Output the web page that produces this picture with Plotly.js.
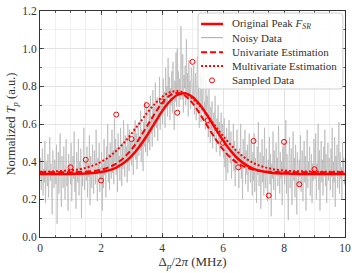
<!DOCTYPE html>
<html>
<head>
<meta charset="utf-8">
<script src="https://cdn.plot.ly/plotly-3.0.1.min.js"></script>
<style>html,body{margin:0;padding:0;background:#fff}#chart{width:357px;height:273px}</style>
</head>
<body>
<div id="chart"></div>
<script>
// Noisy data, x from 0 to 10 in steps of 0.02 (one row of 50 values per x unit)
const noisyY = [
0.31,0.42,0.25,0.38,0.47,0.22,0.36,0.29,0.51,0.18,0.40,0.33,0.27,0.44,0.21,0.35,0.53,0.30,0.39,0.24,0.12,0.46,0.34,0.26,0.41,
0.37,0.28,0.49,0.07,0.32,0.45,0.23,0.38,0.55,0.29,0.16,0.43,0.35,0.26,0.48,0.31,0.20,0.40,0.52,0.27,0.36,0.14,0.44,0.33,0.39,
0.28,0.50,0.19,0.37,0.43,0.31,0.56,0.24,0.35,0.15,0.45,0.38,0.29,0.52,0.22,0.40,0.33,0.47,0.10,0.36,0.27,0.44,0.58,0.25,0.34,
0.41,0.30,0.48,0.21,0.39,0.32,0.54,0.17,0.43,0.36,0.26,0.49,0.34,0.23,0.46,0.38,0.28,0.57,0.31,0.19,0.42,0.35,0.50,0.24,0.37,
0.30,0.45,0.14,0.39,0.26,0.52,0.33,0.41,0.21,0.48,0.36,0.60,0.29,0.44,0.25,0.50,0.38,0.31,0.57,0.34,0.46,0.28,0.63,0.40,0.52,
0.33,0.47,0.24,0.55,0.37,0.43,0.30,0.58,0.41,0.27,0.50,0.36,0.62,0.45,0.32,0.54,0.39,0.48,0.29,0.60,0.44,0.35,0.57,0.42,0.51,
0.38,0.52,0.44,0.33,0.58,0.47,0.62,0.41,0.55,0.36,0.49,0.60,0.43,0.53,0.46,0.67,0.40,0.57,0.50,0.35,0.61,0.48,0.72,0.45,0.56,
0.70,0.43,0.60,0.50,0.68,0.46,0.75,0.55,0.64,0.48,0.78,0.60,0.69,0.53,0.82,0.63,0.58,0.74,0.51,0.70,0.62,0.85,0.57,0.72,0.66,
0.72,0.60,0.84,0.68,0.77,0.58,0.90,0.71,0.80,0.64,0.95,0.74,0.85,0.62,0.79,0.70,0.88,0.66,0.93,0.75,0.57,0.83,0.72,0.98,0.69,
1.00,0.78,0.88,0.69,0.84,0.73,1.12,0.82,0.73,0.97,0.66,0.86,0.79,0.91,0.70,1.05,0.77,0.87,0.64,0.94,0.75,0.83,0.68,0.90,0.80,
0.82,0.70,0.91,0.65,0.78,0.87,0.62,0.74,0.96,0.68,0.80,0.58,0.73,0.88,0.61,0.85,0.69,0.76,0.98,0.64,0.72,0.57,0.83,0.67,0.75,
0.70,0.53,0.79,0.64,0.50,0.69,0.57,0.72,0.47,0.60,0.66,0.52,0.75,0.58,0.45,0.63,0.55,0.70,0.49,0.61,0.43,0.57,0.66,0.51,0.60,
0.55,0.42,0.63,0.37,0.50,0.30,0.58,0.45,0.34,0.54,0.62,0.47,0.39,0.56,0.31,0.48,0.43,0.60,0.35,0.51,0.27,0.46,0.41,0.57,0.38,
0.44,0.26,0.47,0.39,0.60,0.31,0.44,0.20,0.52,0.36,0.41,0.57,0.28,0.46,0.33,0.49,0.24,0.40,0.55,0.35,0.29,0.50,0.37,0.22,0.45,
0.30,0.55,0.24,0.42,0.36,0.18,0.48,0.33,0.61,0.27,0.39,0.45,0.15,0.37,0.52,0.29,0.43,0.22,0.58,0.34,0.26,0.47,0.38,0.19,0.41,
0.35,0.53,0.28,0.44,0.11,0.39,0.31,0.56,0.25,0.46,0.37,0.20,0.50,0.33,0.42,0.27,0.59,0.36,0.23,0.45,0.31,0.40,0.17,0.48,0.34,
0.50,0.28,0.36,0.62,0.23,0.44,0.31,0.09,0.40,0.53,0.26,0.35,0.47,0.17,0.38,0.56,0.30,0.42,0.21,0.49,0.33,0.12,0.45,0.37,0.27,
0.41,0.32,0.54,0.24,0.38,0.46,0.19,0.35,0.51,0.29,0.43,0.14,0.37,0.57,0.26,0.40,0.33,0.48,0.22,0.36,0.44,0.18,0.39,0.30,0.52,
0.43,0.31,0.55,0.20,0.39,0.34,0.60,0.25,0.46,0.14,0.37,0.51,0.29,0.41,0.22,0.48,0.35,0.57,0.27,0.44,0.18,0.38,0.50,0.30,0.42,
0.36,0.25,0.47,0.32,0.58,0.21,0.40,0.29,0.53,0.16,0.43,0.34,0.49,0.26,0.38,0.61,0.23,0.45,0.31,0.37,0.20,0.50,0.33,0.42,0.28,
0.33
];

// Smooth curves, x from 0 to 10 in steps of 0.25 (one row per x unit)
const originalY = [
0.335,0.335,0.335,0.335,
0.335,0.336,0.337,0.340,
0.345,0.354,0.369,0.394,
0.430,0.478,0.537,0.602,
0.667,0.720,0.754,0.763,
0.743,0.701,0.642,0.576,
0.513,0.458,0.414,0.383,
0.362,0.350,0.342,0.338,
0.337,0.336,0.335,0.335,
0.335,0.335,0.335,0.335,
0.335
];
const univariateY = [
0.344,0.344,0.344,0.344,
0.344,0.345,0.347,0.350,
0.357,0.370,0.390,0.421,
0.465,0.521,0.586,0.652,
0.711,0.751,0.765,0.751,
0.711,0.652,0.586,0.521,
0.465,0.421,0.390,0.370,
0.357,0.350,0.347,0.345,
0.344,0.344,0.344,0.344,
0.344,0.344,0.344,0.344,
0.344
];
const multivariateY = [
0.347,0.347,0.349,0.351,
0.354,0.359,0.367,0.380,
0.399,0.424,0.458,0.500,
0.549,0.602,0.656,0.704,
0.743,0.768,0.775,0.764,
0.735,0.694,0.643,0.589,
0.537,0.490,0.449,0.417,
0.393,0.376,0.365,0.357,
0.353,0.350,0.349,0.348,
0.347,0.347,0.347,0.347,
0.347
];

// Sampled data
const sampleX = [1.0,1.5,2.0,2.5,3.0,3.5,4.0,4.5,5.0,5.5,6.0,6.5,7.0,7.5,8.0,8.5,9.0];
const sampleY = [0.37,0.41,0.30,0.65,0.52,0.70,0.72,0.66,0.93,0.62,0.50,0.37,0.51,0.22,0.505,0.28,0.36];

const xTicks = [0,2,4,6,8,10];
const yTicks = [0.0,0.2,0.4,0.6,0.8,1.0,1.2];

const legendLabels = ['Original Peak <i>F</i><sub><i>SR</i></sub>','Noisy Data','Univariate Estimation','Multivariate Estimation','Sampled Data'];

const FONT = 'Liberation Serif';
const RED = '#ff0000';
const GRAY = 'rgba(175,175,175,0.7)';

const traces = [
  {x0:0, dx:0.02, y:noisyY, type:'scatter', mode:'lines', name:legendLabels[1],
   line:{color:GRAY, width:0.9}},
  {x0:0, dx:0.25, y:originalY, type:'scatter', mode:'lines', name:legendLabels[0],
   line:{color:RED, width:2.5, shape:'spline'}},
  {x0:0, dx:0.25, y:univariateY, type:'scatter', mode:'lines', name:legendLabels[2],
   line:{color:RED, width:2, dash:'6px,3px', shape:'spline'}},
  {x0:0, dx:0.25, y:multivariateY, type:'scatter', mode:'lines', name:legendLabels[3],
   line:{color:RED, width:2, dash:'2px,2px', shape:'spline'}},
  {x:sampleX, y:sampleY, type:'scatter', mode:'markers', name:legendLabels[4],
   marker:{symbol:'circle-open', color:RED, size:5, line:{width:1, color:RED}}}
];

// ---- custom legend (paper coordinates) ----
const L = {x0:0.518, x1:0.993, y0:0.655, y1:0.991, rx:0.010, ry:0.013,
           sx0:0.528, sx1:0.600, tx:0.622, rows:[0.9425,0.882,0.817,0.7566,0.693]};
const roundRect = `M ${L.x0+L.rx},${L.y0} L ${L.x1-L.rx},${L.y0} Q ${L.x1},${L.y0} ${L.x1},${L.y0+L.ry} `+
  `L ${L.x1},${L.y1-L.ry} Q ${L.x1},${L.y1} ${L.x1-L.rx},${L.y1} L ${L.x0+L.rx},${L.y1} Q ${L.x0},${L.y1} ${L.x0},${L.y1-L.ry} `+
  `L ${L.x0},${L.y0+L.ry} Q ${L.x0},${L.y0} ${L.x0+L.rx},${L.y0} Z`;
const styles = [
  {color:RED, width:2.5, dash:'solid'},
  {color:'rgba(160,160,160,0.9)', width:1, dash:'solid'},
  {color:RED, width:2, dash:'6px,3px'},
  {color:RED, width:2, dash:'2px,2px'}
];
const shapes = [{type:'path', xref:'paper', yref:'paper', path:roundRect,
  fillcolor:'rgba(255,255,255,0.85)', line:{color:'#d0d0d0', width:1}, layer:'above'}];
styles.forEach((s,i)=>shapes.push({type:'line', xref:'paper', yref:'paper', x0:L.sx0, x1:L.sx1,
  y0:L.rows[i], y1:L.rows[i], line:s, layer:'above'}));
const mx = (L.sx0+L.sx1)/2, my = L.rows[4];
shapes.push({type:'circle', xref:'paper', yref:'paper', x0:mx-0.0082, x1:mx+0.0082, y0:my-0.011, y1:my+0.011,
  line:{color:RED, width:1}, fillcolor:'rgba(0,0,0,0)', layer:'above'});
const annotations = legendLabels.map((t,i)=>({xref:'paper', yref:'paper', x:L.tx, y:L.rows[i], text:t,
  xanchor:'left', yanchor:'middle', showarrow:false, font:{family:FONT, size:11, color:'#333'}}));

const axisCommon = {
  showline:true, linecolor:'#333', linewidth:1, mirror:'allticks',
  ticks:'inside', ticklen:4, tickcolor:'#333', tickwidth:0.8,
  zeroline:false, showgrid:true, gridcolor:'#dedede', gridwidth:0.8,
  tickfont:{family:FONT, size:11.5, color:'#333'}
};

const layout = {
  width:357, height:273,
  margin:{l:40, r:12, t:11, b:36},
  paper_bgcolor:'#fff', plot_bgcolor:'#fff',
  font:{family:FONT, size:11.5, color:'#333'},
  showlegend:false,
  shapes:shapes, annotations:annotations,
  xaxis:Object.assign({}, axisCommon, {
    range:[0,10], tickmode:'array', tickvals:xTicks, ticktext:xTicks.map(String),
    minor:{dtick:0.5, showgrid:true, gridcolor:'#ececec', gridwidth:0.8, ticks:'inside', ticklen:2, tickcolor:'#333'},
    title:{text:'Δ<sub><i>p</i></sub>/2<i>π</i> (MHz)', font:{family:FONT, size:13, color:'#333'}, standoff:3}
  }),
  yaxis:Object.assign({}, axisCommon, {
    range:[0,1.2], tickmode:'array', tickvals:yTicks, ticktext:yTicks.map(v=>v.toFixed(1)),
    minor:{dtick:0.1, showgrid:true, gridcolor:'#ececec', gridwidth:0.8, ticks:'inside', ticklen:2, tickcolor:'#333'},
    title:{text:'Normalized <i>T</i><sub><i>p</i></sub> (a.u.)', font:{family:FONT, size:12.5, color:'#333'}, standoff:3}
  }),
  yaxis2:{overlaying:'y', anchor:'x', side:'left', range:[0,1.2], dtick:0.05, tick0:0,
    ticks:'inside', ticklen:2, tickcolor:'#333', tickwidth:0.8, mirror:'allticks',
    showticklabels:false, showgrid:false, zeroline:false, showline:false}
};

Plotly.newPlot('chart', traces, layout, {displayModeBar:false, staticPlot:true});
</script>
</body>
</html>
